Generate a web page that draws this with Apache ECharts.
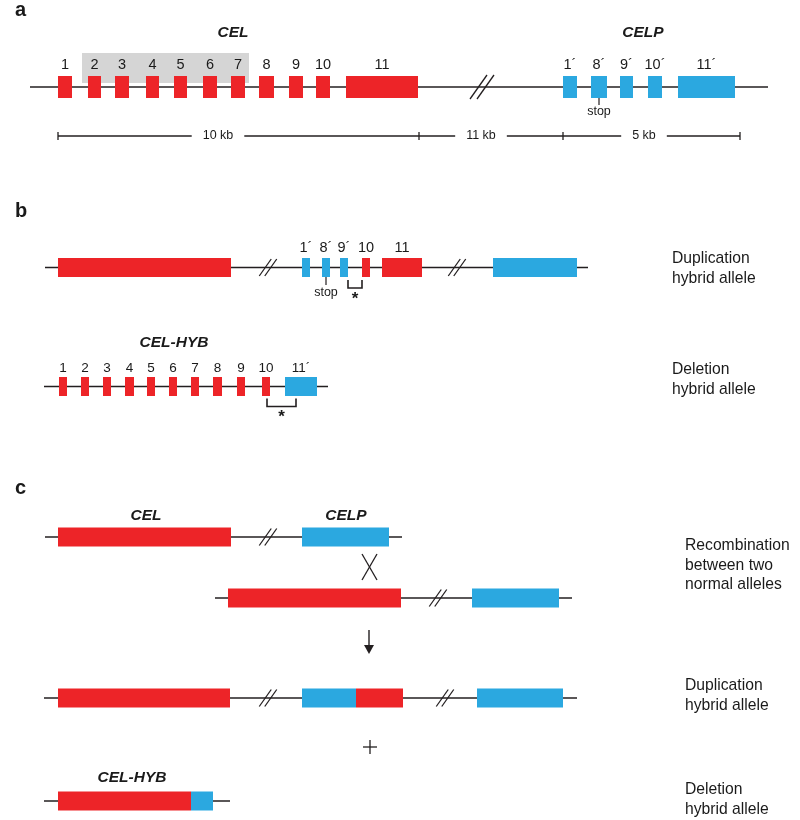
<!DOCTYPE html>
<html><head><meta charset="utf-8">
<script src="https://cdn.jsdelivr.net/npm/echarts@6/dist/echarts.min.js"></script>
<style>html,body{margin:0;padding:0;background:#fff}#chart{width:800px;height:820px}</style>
</head><body><div id="chart"></div>
<script>
// ================= DATA (diagram units along the gene tracks) =================
// Panel a: normal CEL / CELP locus
const celExonsA   = [[58,72],[88,101],[115,129],[146,159],[174,187],[203,217],[231,245],[259,274],[289,303],[316,330],[346,418]];
const celLabelsA  = ['1','2','3','4','5','6','7','8','9','10','11'];
const celpExonsA  = [[563,577],[591,607],[620,633],[648,662],[678,735]];
const celpLabelsA = ['1´','8´','9´','10´','11´'];
const highlightA  = [82,249];            // exons 2–7 shaded
const backboneA   = [30,768];
const breakA      = [482];
const stopExonA   = 1;                   // index in celpExonsA (8´)
const scaleSegs   = [[58,419],[419,563],[563,740]];
const scaleLabels = ['10 kb','11 kb','5 kb'];
const scaleLabelX = [218,481,644];

// Panel b: duplication hybrid allele
const dupExonsB   = [[58,231],[302,310],[322,330],[340,348],[362,370],[382,422],[493,577]];
const dupOriginB  = ['CEL','CELP','CELP','CELP','CEL','CEL','CELP'];
const dupLabelsB  = ['','1´','8´','9´','10','11',''];
const backboneB1  = [45,588];
const breaksB1    = [268,457];
const stopExonB   = 2;
const bracketB1   = [348,362];
// Panel b: deletion hybrid allele (CEL-HYB)
const delExonsB   = [[59,67],[81,89],[103,111],[125,134],[147,155],[169,177],[191,199],[213,222],[237,245],[262,270],[285,317]];
const delOriginB  = ['CEL','CEL','CEL','CEL','CEL','CEL','CEL','CEL','CEL','CEL','CELP'];
const delLabelsB  = ['1','2','3','4','5','6','7','8','9','10','11´'];
const backboneB2  = [44,328];
const bracketB2   = [267,296];

// Panel c: recombination
const c1Exons = [[58,231],[302,389]];           const c1Origin = ['CEL','CELP']; const backboneC1 = [45,402]; const breaksC1 = [268];
const c2Exons = [[228,401],[472,559]];          const c2Origin = ['CEL','CELP']; const backboneC2 = [215,572]; const breaksC2 = [438];
const c3Exons = [[58,230],[302,356],[356,403],[477,563]]; const c3Origin = ['CEL','CELP','CEL','CELP']; const backboneC3 = [44,577]; const breaksC3 = [268,445];
const c4Exons = [[58,191],[191,213]];           const c4Origin = ['CEL','CELP']; const backboneC4 = [44,230];

// ================= STYLE / LAYOUT =================
const COLOR = {CEL:'#ED2428', CELP:'#2BA8E0'};
const INK = '#231F20';
const FONT = '"Liberation Sans", Arial, Helvetica, sans-serif';
const ROW = {a:87, b1:267.5, b2:386.5, c1:537, c2:598, c3:698, c4:801};

const marks = {rects:[], lines:[], texts:[], polys:[]};
function addText(x, y, text, size, opt) {
  marks.texts.push(Object.assign({x, y, text, size, weight:'normal', fstyle:'normal', align:'center'}, opt||{}));
}
function addLine(pts, w) { marks.lines.push({pts, w: w || 1.3}); }
function addExons(exons, origin, labels, y, h, labelDy, labelSize) {
  exons.forEach((e, i) => {
    marks.rects.push({x1:e[0], x2:e[1], y1:y-h/2, y2:y+h/2, fill:COLOR[origin[i]]});
    if (labels && labels[i]) addText((e[0]+e[1])/2, y+labelDy, labels[i], labelSize);
  });
}
function addBackbone(r, y) { addLine([[r[0],y],[r[1],y]], 1.3); }
function addBreak(cx, y, s, hh, off) {
  for (let i = 0; i < 2; i++) {
    const x = cx - off/2 + i*off;
    addLine([[x - s, y + hh],[x + s, y - hh]], 1.3);
  }
}
function addStop(exon, yBottom, tick, textDy) {
  const xm = (exon[0]+exon[1])/2;
  addLine([[xm, yBottom],[xm, yBottom+tick]], 1.2);
  addText(xm, yBottom+textDy, 'stop', 12.5);
}
function addBracket(r, top, bot, starDy) {
  addLine([[r[0],top],[r[0],bot],[r[1],bot],[r[1],top]], 1.6);
  addText((r[0]+r[1])/2, bot+starDy, '*', 17, {weight:'bold'});
}
function geneLabel(x, y, t) { addText(x, y, t, 15.5, {weight:'bold', fstyle:'italic'}); }
function sideText(x, y1, lines, gap) { lines.forEach((t,i)=>addText(x, y1+i*gap, t, 15.7, {align:'left'})); }

// ---- panel a ----
marks.shade = {x1:highlightA[0], x2:highlightA[1], y1:ROW.a-34, y2:ROW.a-4};
addText(15, 10, 'a', 20, {weight:'bold', align:'left'});
geneLabel(233, 33, 'CEL');
geneLabel(643, 32.5, 'CELP');
addBackbone(backboneA, ROW.a);
breakA.forEach(x => addBreak(x, ROW.a, 8.5, 12, 7));
addExons(celExonsA, celExonsA.map(()=> 'CEL'), celLabelsA, ROW.a, 22, -22, 14.5);
addExons(celpExonsA, celpExonsA.map(()=> 'CELP'), celpLabelsA, ROW.a, 22, -22, 14.5);
addStop(celpExonsA[stopExonA], ROW.a+11, 7, 14);
const yScale = 136;
addLine([[scaleSegs[0][0], yScale],[scaleSegs[scaleSegs.length-1][1], yScale]], 1.3);
scaleSegs.forEach((s, i) => {
  addLine([[s[0], yScale-4],[s[0], yScale+4]], 1.3);
  addText(scaleLabelX[i], yScale, scaleLabels[i], 12.5, {bg:'#fff', pad:[0,11]});
});
addLine([[scaleSegs[scaleSegs.length-1][1], yScale-4],[scaleSegs[scaleSegs.length-1][1], yScale+4]], 1.3);

// ---- panel b ----
addText(15, 211, 'b', 20, {weight:'bold', align:'left'});
addBackbone(backboneB1, ROW.b1);
breaksB1.forEach(x => addBreak(x, ROW.b1, 6, 8.5, 5.5));
addExons(dupExonsB, dupOriginB, dupLabelsB, ROW.b1, 19, -19.5, 14.5);
addStop(dupExonsB[stopExonB], ROW.b1+9.5, 8, 16);
addBracket(bracketB1, ROW.b1+12.5, ROW.b1+20.5, 11);
sideText(672, 259, ['Duplication','hybrid allele'], 20);

geneLabel(174, 342.5, 'CEL-HYB');
addBackbone(backboneB2, ROW.b2);
addExons(delExonsB, delOriginB, delLabelsB, ROW.b2, 19, -18.5, 13.5);
addBracket(bracketB2, ROW.b2+12, ROW.b2+20, 11);
sideText(672, 370, ['Deletion','hybrid allele'], 20);

// ---- panel c ----
addText(15, 488, 'c', 20, {weight:'bold', align:'left'});
geneLabel(146, 516, 'CEL');
geneLabel(346, 516, 'CELP');
addBackbone(backboneC1, ROW.c1);
breaksC1.forEach(x => addBreak(x, ROW.c1, 6, 8.5, 5.5));
addExons(c1Exons, c1Origin, null, ROW.c1, 19);
// crossover
addLine([[362,554],[377,580]], 1.3);
addLine([[377,554],[362,580]], 1.3);
addBackbone(backboneC2, ROW.c2);
breaksC2.forEach(x => addBreak(x, ROW.c2, 6, 8.5, 5.5));
addExons(c2Exons, c2Origin, null, ROW.c2, 19);
sideText(685, 546, ['Recombination','between two','normal alleles'], 19.5);
// arrow
addLine([[369,630],[369,646]], 1.4);
marks.polys.push([[364,645],[374,645],[369,654]]);
addBackbone(backboneC3, ROW.c3);
breaksC3.forEach(x => addBreak(x, ROW.c3, 6, 8.5, 5.5));
addExons(c3Exons, c3Origin, null, ROW.c3, 19);
sideText(685, 686, ['Duplication','hybrid allele'], 19.5);
// plus
addLine([[363,747],[377,747]], 1.3);
addLine([[370,740],[370,754]], 1.3);
geneLabel(132, 778, 'CEL-HYB');
addBackbone(backboneC4, ROW.c4);
addExons(c4Exons, c4Origin, null, ROW.c4, 19);
sideText(685, 790, ['Deletion','hybrid allele'], 20);

// ================= CHART =================
function base(name, data, z, render) {
  return {type:'custom', name, coordinateSystem:'cartesian2d', data, z, silent:true,
          animation:false, clip:false, renderItem:render};
}
const series = [
  base('shade', [[marks.shade.x1, marks.shade.y1]], 1, (p, api) => {
    const s = marks.shade, a = api.coord([s.x1, s.y1]), b = api.coord([s.x2, s.y2]);
    return {type:'rect', shape:{x:a[0], y:a[1], width:b[0]-a[0], height:b[1]-a[1]}, style:{fill:'#D5D5D5'}};
  }),
  base('lines', marks.lines.map(l => l.pts[0]), 2, (p, api) => {
    const l = marks.lines[p.dataIndex];
    return {type:'polyline', shape:{points:l.pts.map(q => api.coord(q))},
            style:{stroke:INK, lineWidth:l.w, fill:null}};
  }),
  base('exons', marks.rects.map(r => [r.x1, r.y1]), 3, (p, api) => {
    const r = marks.rects[p.dataIndex], a = api.coord([r.x1, r.y1]), b = api.coord([r.x2, r.y2]);
    return {type:'rect', shape:{x:a[0], y:a[1], width:b[0]-a[0], height:b[1]-a[1]}, style:{fill:r.fill}};
  }),
  base('arrows', marks.polys.map(q => q[0]), 3, (p, api) => {
    return {type:'polygon', shape:{points:marks.polys[p.dataIndex].map(q => api.coord(q))}, style:{fill:INK}};
  }),
  base('texts', marks.texts.map(t => [t.x, t.y]), 4, (p, api) => {
    const t = marks.texts[p.dataIndex], c = api.coord([t.x, t.y]);
    const st = {text:t.text, fill:'#1a1a1a', fontSize:t.size, fontFamily:FONT, fontWeight:t.weight,
                fontStyle:t.fstyle, align:t.align, verticalAlign:'middle'};
    if (t.bg) { st.backgroundColor = t.bg; st.padding = t.pad; }
    return {type:'text', x:c[0], y:c[1], style:st};
  })
];
const chart = echarts.init(document.getElementById('chart'), null, {renderer:'canvas'});
chart.setOption({
  animation:false,
  backgroundColor:'#fff',
  grid:{left:0, right:0, top:0, bottom:0},
  xAxis:{type:'value', min:0, max:800, show:false},
  yAxis:{type:'value', min:0, max:820, inverse:true, show:false},
  series
});
</script></body></html>
